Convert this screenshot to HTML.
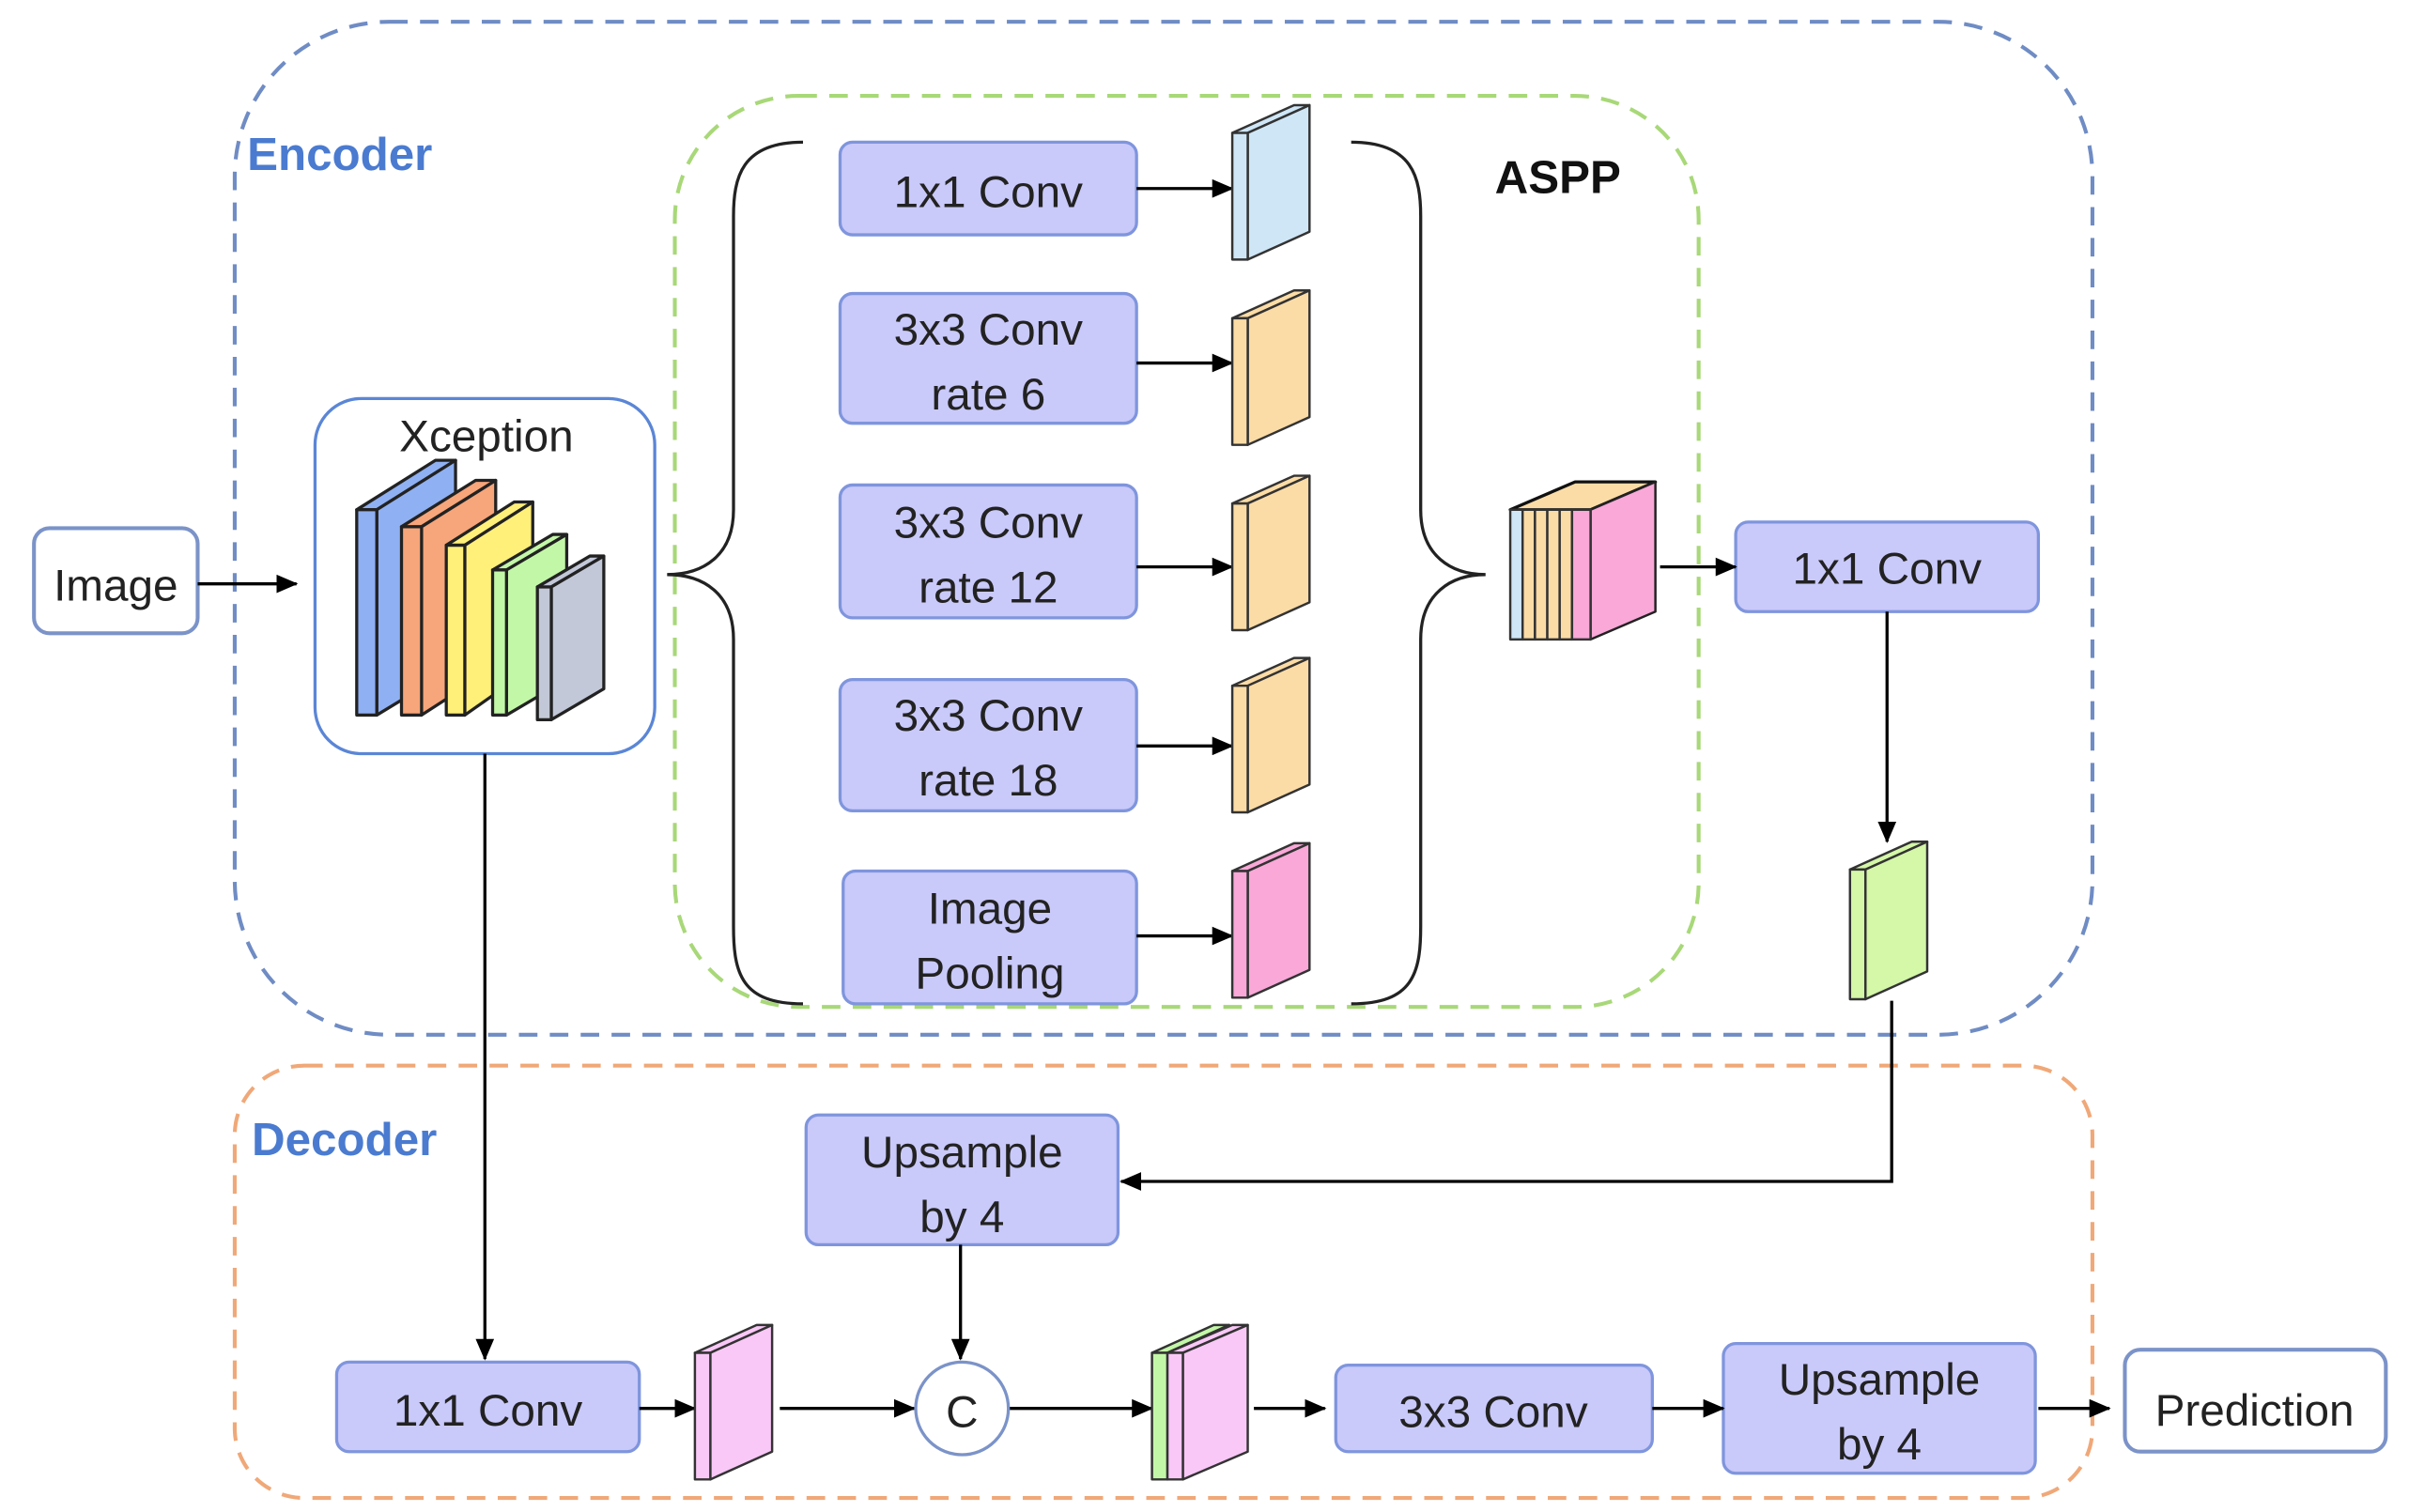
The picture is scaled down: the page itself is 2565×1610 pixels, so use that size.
<!DOCTYPE html>
<html><head><meta charset="utf-8"><style>
html,body{margin:0;padding:0;background:#fff;}
svg{display:block;}
text{font-family:"Liberation Sans","DejaVu Sans",sans-serif;}
</style></head><body>
<svg width="2565" height="1610" viewBox="0 0 1560 979" xmlns="http://www.w3.org/2000/svg">
<defs>
<marker id="ar" markerWidth="14" markerHeight="12" refX="13" refY="6" orient="auto" markerUnits="userSpaceOnUse" viewBox="0 0 14 12">
<path d="M0,0 L14,6 L0,12 z" fill="#000"/></marker>
</defs>
<rect width="1560" height="979" fill="#fff"/>
<rect x="152" y="14" width="1203" height="656" rx="100" fill="none" stroke="#6f8cc4" stroke-width="2.5" stroke-dasharray="12,8"/>
<rect x="437" y="62" width="663" height="590" rx="80" fill="none" stroke="#a8d878" stroke-width="2.5" stroke-dasharray="12,8"/>
<rect x="152" y="690" width="1203" height="280" rx="45" fill="none" stroke="#f0a878" stroke-width="2.5" stroke-dasharray="12,8"/>
<text x="160" y="110" font-size="30" font-weight="bold" fill="#4a7bd0">Encoder</text>
<text x="163" y="748" font-size="30" font-weight="bold" fill="#4a7bd0">Decoder</text>
<text x="968" y="125" font-size="30" font-weight="bold" fill="#111">ASPP</text>

<rect x="22" y="342" width="106" height="68" rx="10" fill="#fff" stroke="#7b93c8" stroke-width="2.5"/>
<text x="75" y="389" font-size="29" text-anchor="middle" fill="#222">Image</text>
<line x1="128" y1="378" x2="192" y2="378" stroke="#000" stroke-width="2" marker-end="url(#ar)"/>

<rect x="204" y="258" width="220" height="230" rx="30" fill="#fff" stroke="#5b86d6" stroke-width="2"/>
<text x="315" y="292" font-size="29" text-anchor="middle" fill="#222">Xception</text>
<g stroke="#222" stroke-width="2" stroke-linejoin="round">
<polygon points="231,330 244,330 295,298 282,298" fill="#8fb0f2"/><polygon points="244,330 295,298 295,432 244,463" fill="#8fb0f2"/><rect x="231" y="330" width="13" height="133" fill="#8fb0f2"/>
<polygon points="260,341 273,341 321,311 308,311" fill="#f7a57a"/><polygon points="273,341 321,311 321,432 273,463" fill="#f7a57a"/><rect x="260" y="341" width="13" height="122" fill="#f7a57a"/>
<polygon points="289,353 301,353 345,325 333,325" fill="#fff07a"/><polygon points="301,353 345,325 345,432 301,463" fill="#fff07a"/><rect x="289" y="353" width="12" height="110" fill="#fff07a"/>
<polygon points="319,369 328,369 367,346 358,346" fill="#c3f7a8"/><polygon points="328,369 367,346 367,440 328,463" fill="#c3f7a8"/><rect x="319" y="369" width="9" height="94" fill="#c3f7a8"/>
<polygon points="348,380 357,380 391,360 382,360" fill="#c3c8d8"/><polygon points="357,380 391,360 391,446 357,466" fill="#c3c8d8"/><rect x="348" y="380" width="9" height="86" fill="#c3c8d8"/>
</g>

<path d="M520,92 C480,92 475,115 475,140 L475,330 C475,360 455,372 432,372 C455,372 475,384 475,414 L475,600 C475,630 480,650 520,650" fill="none" stroke="#222" stroke-width="2"/>
<path d="M875,92 C915,92 920,115 920,140 L920,330 C920,360 940,372 962,372 C940,372 920,384 920,414 L920,600 C920,630 915,650 875,650" fill="none" stroke="#222" stroke-width="2"/>

<g fill="#c9c9fa" stroke="#7f95dd" stroke-width="2">
<rect x="544" y="92" width="192" height="60" rx="8"/>
<rect x="544" y="190" width="192" height="84" rx="8"/>
<rect x="544" y="314" width="192" height="86" rx="8"/>
<rect x="544" y="440" width="192" height="85" rx="8"/>
<rect x="546" y="564" width="190" height="86" rx="8"/>
<rect x="1124" y="338" width="196" height="58" rx="8"/>
<rect x="522" y="722" width="202" height="84" rx="8"/>
<rect x="218" y="882" width="196" height="58" rx="8"/>
<rect x="865" y="884" width="205" height="56" rx="8"/>
<rect x="1116" y="870" width="202" height="84" rx="8"/>
</g>
<g font-size="29" text-anchor="middle" fill="#222">
<text x="640" y="134">1x1 Conv</text>
<text x="640" y="223">3x3 Conv</text><text x="640" y="265">rate 6</text>
<text x="640" y="348">3x3 Conv</text><text x="640" y="390">rate 12</text>
<text x="640" y="473">3x3 Conv</text><text x="640" y="515">rate 18</text>
<text x="641" y="598">Image</text><text x="641" y="640">Pooling</text>
<text x="1222" y="378">1x1 Conv</text>
<text x="623" y="756">Upsample</text><text x="623" y="798">by 4</text>
<text x="316" y="923">1x1 Conv</text>
<text x="967" y="924">3x3 Conv</text>
<text x="1217" y="903">Upsample</text><text x="1217" y="945">by 4</text>
</g>

<g stroke="#000" stroke-width="2" fill="none" marker-end="url(#ar)">
<line x1="736" y1="122" x2="798" y2="122"/>
<line x1="736" y1="235" x2="798" y2="235"/>
<line x1="736" y1="367" x2="798" y2="367"/>
<line x1="736" y1="483" x2="798" y2="483"/>
<line x1="736" y1="606" x2="798" y2="606"/>
<line x1="1075" y1="367" x2="1124" y2="367"/>
<line x1="1222" y1="396" x2="1222" y2="545"/>
<polyline points="1225,648 1225,765 726,765"/>
<line x1="622" y1="806" x2="622" y2="880"/>
<line x1="314" y1="488" x2="314" y2="880"/>
<line x1="414" y1="912" x2="450" y2="912"/>
<line x1="505" y1="912" x2="592" y2="912"/>
<line x1="653" y1="912" x2="746" y2="912"/>
<line x1="812" y1="912" x2="858" y2="912"/>
<line x1="1070" y1="912" x2="1116" y2="912"/>
<line x1="1320" y1="912" x2="1366" y2="912"/>
</g>

<g stroke="#333" stroke-width="1.5" stroke-linejoin="round">
<polygon points="798,86 808,86 848,68 838,68" fill="#cfe6f7"/><polygon points="808,86 848,68 848,150 808,168" fill="#cfe6f7"/><rect x="798" y="86" width="10" height="82" fill="#cfe6f7"/>
<polygon points="798,206 808,206 848,188 838,188" fill="#fcdca6"/><polygon points="808,206 848,188 848,270 808,288" fill="#fcdca6"/><rect x="798" y="206" width="10" height="82" fill="#fcdca6"/>
<polygon points="798,326 808,326 848,308 838,308" fill="#fcdca6"/><polygon points="808,326 848,308 848,390 808,408" fill="#fcdca6"/><rect x="798" y="326" width="10" height="82" fill="#fcdca6"/>
<polygon points="798,444 808,444 848,426 838,426" fill="#fcdca6"/><polygon points="808,444 848,426 848,508 808,526" fill="#fcdca6"/><rect x="798" y="444" width="10" height="82" fill="#fcdca6"/>
<polygon points="798,564 808,564 848,546 838,546" fill="#f9a8d8"/><polygon points="808,564 848,546 848,628 808,646" fill="#f9a8d8"/><rect x="798" y="564" width="10" height="82" fill="#f9a8d8"/>
<polygon points="1198,563 1208,563 1248,545 1238,545" fill="#d4f7a8"/><polygon points="1208,563 1248,545 1248,629 1208,647" fill="#d4f7a8"/><rect x="1198" y="563" width="10" height="84" fill="#d4f7a8"/>
<polygon points="978,330 1030,330 1072,312 1020,312" fill="#fcdca6" stroke="#111" stroke-width="2"/>
<polygon points="1030,330 1072,312 1072,396 1030,414" fill="#f9a8d8" stroke="#222"/>
<rect x="978" y="330" width="8" height="84" fill="#cfe6f7"/>
<rect x="986" y="330" width="8" height="84" fill="#fcdca6"/>
<rect x="994" y="330" width="8" height="84" fill="#fcdca6"/>
<rect x="1002" y="330" width="8" height="84" fill="#fcdca6"/>
<rect x="1010" y="330" width="8" height="84" fill="#fcdca6"/>
<rect x="1018" y="330" width="12" height="84" fill="#f9a8d8"/>
<polygon points="450,876 460,876 500,858 490,858" fill="#f9c8f7"/><polygon points="460,876 500,858 500,940 460,958" fill="#f9c8f7"/><rect x="450" y="876" width="10" height="82" fill="#f9c8f7"/>
<polygon points="746,876 756,876 796,858 786,858" fill="#c3f7a8"/><polygon points="756,876 796,858 796,940 756,958" fill="#c3f7a8"/><rect x="746" y="876" width="10" height="82" fill="#c3f7a8"/>
<polygon points="756,876 766,876 808,858 798,858" fill="#f9c8f7"/><polygon points="766,876 808,858 808,940 766,958" fill="#f9c8f7"/><rect x="756" y="876" width="10" height="82" fill="#f9c8f7"/>
</g>

<circle cx="623" cy="912" r="30" fill="#fff" stroke="#7b93c8" stroke-width="2"/>
<text x="623" y="924" font-size="29" text-anchor="middle" fill="#222">C</text>

<rect x="1376" y="874" width="169" height="66" rx="10" fill="#fff" stroke="#7b93c8" stroke-width="2.5"/>
<text x="1460" y="923" font-size="29" text-anchor="middle" fill="#222">Prediction</text>
</svg>
</body></html>
